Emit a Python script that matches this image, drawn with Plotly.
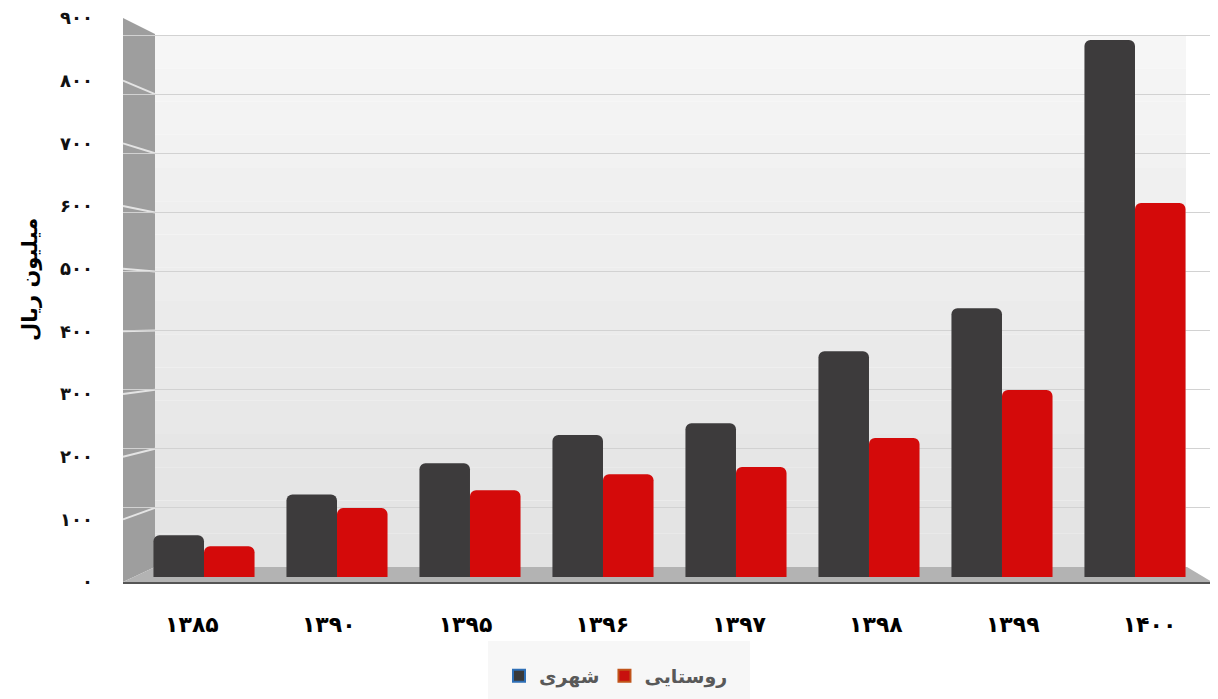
import plotly.graph_objects as go

# ---- data ----
years = ["۱۳۸۵", "۱۳۹۰", "۱۳۹۵", "۱۳۹۶", "۱۳۹۷", "۱۳۹۸", "۱۳۹۹", "۱۴۰۰"]
urban = [68, 134, 185, 231, 250, 367, 437, 873]      # شهری
rural = [50, 112, 141, 167, 179, 226, 304, 608]      # روستایی
series_names = ["شهری", "روستایی"]
ytick_vals = [0, 100, 200, 300, 400, 500, 600, 700, 800, 900]
ytick_text = ["۰", "۱۰۰", "۲۰۰", "۳۰۰", "۴۰۰", "۵۰۰", "۶۰۰", "۷۰۰", "۸۰۰", "۹۰۰"]
y_title = "میلیون ریال"

# page has an 8px body margin -> figure sits at (8, 8)
OFF = 8
PLEFT, PRIGHT, PTOP, PBOT = 123, 1210, 18, 582      # plot area in page pixels
W, H = 1218 - OFF, 699 - OFF
PW, PH = PRIGHT - PLEFT, PBOT - PTOP
L, T = PLEFT - OFF, PTOP - OFF
R, B = W - L - PW, H - T - PH
FONT = "DejaVu Sans"

# pseudo-3D geometry (page pixels)
FRONT_SCALE = PH / 900.0            # px per unit on the front plane
BACK_ZERO, BACK_SCALE = 567, 0.591  # back wall
BAR_ZERO, BAR_SCALE = 577, 0.615    # plane the bars stand in


def px(x):
    return (x - PLEFT) / PW


def py(y):
    return (PBOT - y) / PH


fig = go.Figure()
fig.add_trace(go.Bar(x=years, y=urban, name=series_names[0], showlegend=False, offsetgroup="a",
                     marker=dict(color="#3d3b3c", line=dict(width=0))))
fig.add_trace(go.Bar(x=years, y=rural, name=series_names[1], showlegend=False, offsetgroup="b",
                     marker=dict(color="#d40a0a", line=dict(width=0))))
# legend entries (no data)
fig.add_trace(go.Bar(x=[years[0]], y=[None], name=series_names[0], offsetgroup="a",
                     marker=dict(color="#3a3a3a", cornerradius=0, line=dict(color="#2e6fb6", width=2))))
fig.add_trace(go.Bar(x=[years[0]], y=[None], name=series_names[1], offsetgroup="b",
                     marker=dict(color="#c8100e", cornerradius=0, line=dict(color="#c0541a", width=2))))
# carriers for the overlay axes (tick labels / back-wall grid / category labels)
fig.add_trace(go.Scatter(x=years, y=[None] * len(years), yaxis="y2",
                         showlegend=False, hoverinfo="skip"))
fig.add_trace(go.Scatter(x=years, y=[None] * len(years), yaxis="y3",
                         showlegend=False, hoverinfo="skip"))
fig.add_trace(go.Scatter(x=years, y=[None] * len(years), xaxis="x2",
                         showlegend=False, hoverinfo="skip"))

shapes = []
# back wall with vertical gradient
back_l, back_r, back_t, back_b = 155, 1186, 35, 567
n = 16
for i in range(n):
    y0 = back_b - (back_b - back_t) * i / n
    y1 = back_b - (back_b - back_t) * (i + 1) / n
    c = int(0xe3 + (0xf6 - 0xe3) * i / (n - 1))
    col = "#%02x%02x%02x" % (c, c, c)
    shapes.append(dict(type="rect", xref="paper", yref="paper", layer="below",
                       x0=px(back_l), x1=px(back_r), y0=py(y0), y1=py(y1),
                       fillcolor=col, line=dict(width=0)))
# white strip right of back wall (hide grid)
shapes.append(dict(type="rect", xref="paper", yref="paper", layer="between",
                   x0=px(back_r + 1), x1=1.0, y0=py(567), y1=1.0,
                   fillcolor="white", line=dict(width=0)))
# left wall
shapes.append(dict(type="path", xref="paper", yref="paper", layer="between",
                   path="M %f %f L %f %f L %f %f L %f %f Z" % (
                       px(123), py(582), px(123), py(18), px(155), py(34), px(155), py(567)),
                   fillcolor="#9e9e9e", line=dict(width=0)))
# left wall grid lines (front tick -> back wall line)
for v in ytick_vals[1:-1]:
    shapes.append(dict(type="line", xref="paper", yref="paper", layer="between",
                       x0=px(123), y0=py(PBOT - v * FRONT_SCALE),
                       x1=px(155), y1=py(BACK_ZERO - v * BACK_SCALE),
                       line=dict(color="#e4e4e4", width=2)))
# floor
shapes.append(dict(type="path", xref="paper", yref="paper", layer="between",
                   path="M %f %f L %f %f L %f %f L %f %f Z" % (
                       px(123), py(582), px(1212), py(582), px(1187), py(567), px(155), py(567)),
                   fillcolor="#b3b3b3", line=dict(width=0)))
shapes.append(dict(type="line", xref="paper", yref="paper", layer="above",
                   x0=px(123), y0=py(583), x1=px(1212), y1=py(583),
                   line=dict(color="#555555", width=2)))
# legend background box
shapes.append(dict(type="rect", xref="paper", yref="paper", layer="below",
                   x0=px(488), x1=px(750), y0=py(641), y1=py(700),
                   fillcolor="#f7f7f7", line=dict(width=0)))

back_lo = -(PBOT - BACK_ZERO) / BACK_SCALE
back_hi = (BACK_ZERO - PTOP) / BACK_SCALE
bar_lo = -(PBOT - BAR_ZERO) / BAR_SCALE
bar_hi = (BAR_ZERO - PTOP) / BAR_SCALE

fig.update_layout(
    width=W, height=H,
    margin=dict(l=L, r=R, t=T, b=B, autoexpand=False),
    paper_bgcolor="white", plot_bgcolor="rgba(0,0,0,0)",
    barmode="group", bargap=0.24, bargroupgap=0.0, barcornerradius=6,
    font=dict(family=FONT, color="#000000"),
    xaxis=dict(type="category", range=[-0.609, 7.564], showgrid=False, zeroline=False,
               showline=False, ticks="", showticklabels=False),
    xaxis2=dict(type="category", overlaying="x", side="bottom", range=[-0.504, 7.442],
                showgrid=False, zeroline=False, showline=False, ticks="", ticklabelstandoff=27,
                tickfont=dict(size=22, family=FONT, weight="bold", color="#000")),
    yaxis=dict(range=[bar_lo, bar_hi], showticklabels=False, showgrid=False,
               zeroline=False, showline=False, ticks=""),
    yaxis2=dict(overlaying="y", side="left", range=[0, 900], tickvals=ytick_vals, ticktext=ytick_text,
                showgrid=False, zeroline=False, showline=False, ticks="", ticklabelstandoff=29,
                ticklabeloverflow="allow",
                tickfont=dict(size=18, family=FONT, weight="bold", color="#111")),
    yaxis3=dict(overlaying="y", range=[back_lo, back_hi], tickvals=ytick_vals[1:], showticklabels=False,
                showgrid=True, gridcolor="#d2d2d2", gridwidth=1, zeroline=False, showline=False),
    legend=dict(orientation="h", x=px(616), xanchor="center", y=py(676), yanchor="middle",
                bgcolor="rgba(0,0,0,0)", font=dict(size=19, family=FONT, weight="bold", color="#595959"),
                itemsizing="constant", traceorder="normal"),
    shapes=shapes,
    annotations=[dict(text=y_title, xref="paper", yref="paper", x=px(30), y=py(280),
                      xanchor="center", yanchor="middle",
                      textangle=-90, showarrow=False,
                      font=dict(size=21, family=FONT, weight="bold", color="#000"))],
)

fig.write_html("out.html")
